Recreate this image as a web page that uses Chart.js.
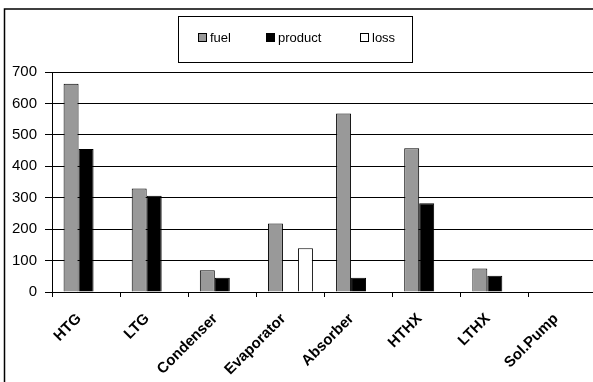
<!DOCTYPE html>
<html>
<head>
<meta charset="utf-8">
<script src="https://cdn.jsdelivr.net/npm/chart.js@4"></script>
<style>
  html, body { margin: 0; padding: 0; background: #fff; overflow: hidden; }
  #wrap { width: 600px; height: 382px; position: relative; }
</style>
</head>
<body>
<div id="wrap"><canvas id="c" width="600" height="382"></canvas></div>
<script>
const categories = ['HTG', 'LTG', 'Condenser', 'Evaporator', 'Absorber', 'HTHX', 'LTHX', 'Sol.Pump'];
const fuel    = [663, 329, 69, 218, 568, 457, 75, 0];
const product = [455, 306, 45, 0, 45, 282, 52, 0];
const loss    = [0, 0, 0, 139, 0, 0, 0, 0];
const seriesNames = ['fuel', 'product', 'loss'];
const yTicks = [0, 100, 200, 300, 400, 500, 600, 700];

const FONT = '"Liberation Sans", Arial, sans-serif';
const colors = ['#999999', '#000000', '#ffffff'];

const framePlugin = {
  id: 'frame',
  beforeDraw(chart) {
    const ctx = chart.ctx;
    ctx.save();
    ctx.fillStyle = '#fff';
    ctx.fillRect(0, 0, chart.width, chart.height);
    ctx.strokeStyle = '#000';
    ctx.lineWidth = 1.5;
    ctx.strokeRect(4.5, 9, 700, 600);
    ctx.restore();
  }
};

const legendBoxPlugin = {
  id: 'legendBox',
  afterDraw(chart) {
    const ctx = chart.ctx;
    ctx.save();
    ctx.strokeStyle = '#000';
    ctx.lineWidth = 1;
    ctx.strokeRect(178.5, 16.5, 234, 46);
    const sqX = [198, 266, 360];
    const y = 38;
    ctx.font = '13px ' + FONT;
    ctx.textBaseline = 'middle';
    ctx.textAlign = 'left';
    chart.data.datasets.forEach((ds, i) => {
      ctx.fillStyle = ds.backgroundColor;
      ctx.fillRect(sqX[i] + 0.5, y - 4.5, 8, 8);
      ctx.strokeStyle = '#000';
      ctx.strokeRect(sqX[i] + 0.5, y - 4.5, 8, 8);
      ctx.fillStyle = '#000';
      ctx.fillText(ds.label, sqX[i] + 12, y);
    });
    ctx.restore();
  }
};

new Chart(document.getElementById('c'), {
  type: 'bar',
  data: {
    labels: categories,
    datasets: [
      { label: seriesNames[0], data: fuel, backgroundColor: colors[0], borderColor: '#000', borderWidth: 1 },
      { label: seriesNames[1], data: product, backgroundColor: colors[1], borderColor: '#000', borderWidth: 1 },
      { label: seriesNames[2], data: loss, backgroundColor: colors[2], borderColor: '#000', borderWidth: 1 }
    ]
  },
  options: {
    responsive: false,
    devicePixelRatio: 1,
    animation: false,
    categoryPercentage: 0.66,
    barPercentage: 1,
    layout: { padding: { left: 0, top: 72, right: 3, bottom: 0 } },
    plugins: {
      legend: { display: false },
      tooltip: { enabled: false }
    },
    scales: {
      x: {
        offset: true,
        grid: { display: true, drawOnChartArea: false, drawTicks: true, tickLength: 5, color: '#000', offset: true },
        border: { color: '#000', width: 1 },
        ticks: {
          maxRotation: 45, minRotation: 45, autoSkip: false,
          color: '#000', font: { family: FONT, size: 15, weight: 'bold' },
          padding: 13, labelOffset: -7
        },
        afterFit(s) { s.height = 90; }
      },
      y: {
        min: 0, max: 700,
        afterBuildTicks(s) { s.ticks = yTicks.map(v => ({ value: v })); },
        grid: { color: '#000', lineWidth: 1, tickLength: 7 },
        border: { color: '#000', width: 1 },
        ticks: { color: '#000', font: { family: FONT, size: 15 }, padding: 8 },
        afterFit(s) { s.width = 52; }
      }
    }
  },
  plugins: [framePlugin, legendBoxPlugin]
});
</script>
</body>
</html>
